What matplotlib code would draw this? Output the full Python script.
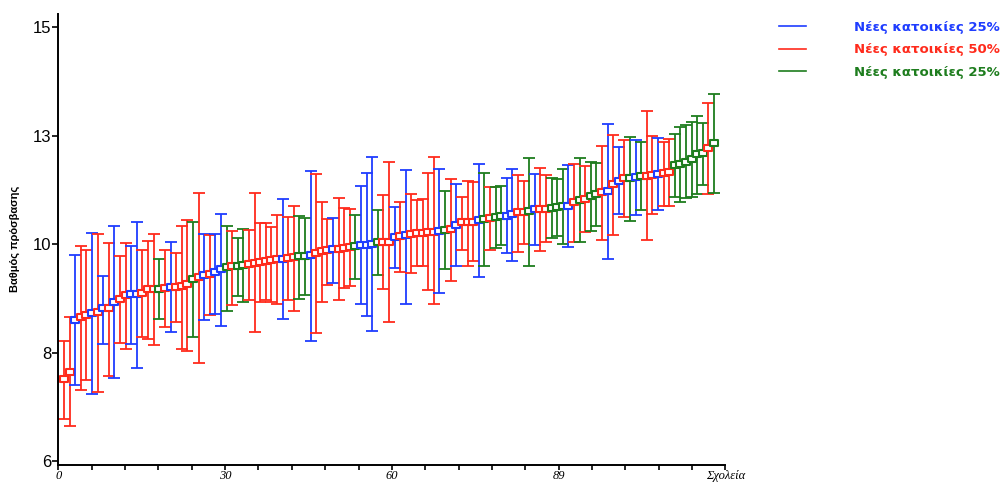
import numpy as np
import matplotlib
matplotlib.use("Agg")
import matplotlib.pyplot as plt
from matplotlib.lines import Line2D
from matplotlib.path import Path
from matplotlib.ticker import FixedLocator, FuncFormatter

# mean accessibility score per school, sorted, with its low/high range
means = [7.70, 7.86, 8.93, 9.00, 9.04, 9.08, 9.10, 9.17, 9.17, 9.30,
         9.37, 9.44, 9.46, 9.46, 9.49, 9.57, 9.57, 9.57, 9.59, 9.61,
         9.61, 9.64, 9.67, 9.78, 9.81, 9.86, 9.88, 9.93, 9.98, 10.02,
         10.04, 10.04, 10.06, 10.08, 10.12, 10.14, 10.15, 10.17, 10.20, 10.20,
         10.22, 10.24, 10.25, 10.25, 10.27, 10.32, 10.36, 10.37, 10.39, 10.40,
         10.42, 10.44, 10.46, 10.48, 10.49, 10.51, 10.54, 10.55, 10.55, 10.65,
         10.66, 10.68, 10.72, 10.73, 10.74, 10.75, 10.76, 10.78, 10.80, 10.81,
         10.90, 10.95, 10.95, 10.97, 11.00, 11.02, 11.05, 11.06, 11.08, 11.09,
         11.12, 11.16, 11.16, 11.19, 11.22, 11.22, 11.23, 11.26, 11.27, 11.29,
         11.30, 11.38, 11.42, 11.44, 11.49, 11.55, 11.58, 11.60, 11.74, 11.82,
         11.87, 11.87, 11.89, 11.92, 11.92, 11.93, 11.95, 11.97, 11.99, 12.14,
         12.17, 12.21, 12.26, 12.36, 12.38, 12.50, 12.60]

highs = [8.50, 8.98, 10.27, 10.46, 10.37, 10.74, 10.71, 9.85, 10.53, 10.88,
         10.25, 10.53, 10.46, 10.97, 10.38, 10.57, 10.71, 10.19, 10.37, 10.54,
         10.32, 10.88, 11.00, 10.97, 11.56, 10.71, 10.68, 10.71, 11.12, 10.88,
         10.78, 10.62, 10.82, 10.80, 11.56, 10.93, 10.93, 10.86, 11.10, 11.43,
         11.07, 11.29, 11.08, 11.05, 12.02, 11.95, 11.38, 11.02, 11.05, 11.46,
         11.26, 11.23, 11.10, 11.71, 11.98, 12.31, 11.21, 11.51, 12.21, 11.28,
         11.38, 12.04, 11.53, 11.42, 11.44, 11.97, 12.31, 12.06, 11.60, 11.85,
         11.74, 11.48, 11.82, 11.78, 12.16, 11.98, 11.68, 11.68, 11.70, 11.87,
         12.06, 11.93, 11.80, 12.29, 11.95, 12.08, 11.94, 11.87, 11.85, 12.06,
         12.14, 12.16, 12.28, 12.12, 12.21, 12.19, 12.53, 12.99, 12.76, 12.52,
         12.67, 12.73, 12.65, 12.61, 13.26, 12.74, 12.70, 12.61, 12.68, 12.79,
         12.92, 12.97, 13.04, 13.16, 13.01, 13.43, 13.61]

lows = [6.87, 6.73, 7.59, 7.48, 7.69, 7.40, 7.43, 8.44, 7.76, 7.72,
        8.46, 8.33, 8.44, 7.94, 8.58, 8.53, 8.40, 8.95, 8.78, 8.68,
        8.88, 8.32, 8.28, 8.57, 8.03, 8.93, 9.03, 9.06, 8.81, 9.11,
        9.23, 9.42, 9.30, 9.34, 8.67, 9.30, 9.34, 9.30, 9.27, 8.95,
        9.34, 9.11, 9.37, 9.45, 8.50, 8.65, 9.30, 9.66, 9.69, 9.34,
        9.59, 9.63, 9.78, 9.25, 9.01, 8.70, 9.87, 9.57, 8.88, 10.00,
        9.93, 9.27, 9.91, 10.04, 10.04, 9.54, 9.25, 9.49, 9.98, 9.74,
        10.05, 10.38, 10.04, 10.15, 9.81, 10.04, 10.38, 10.42, 10.49, 10.32,
        10.15, 10.33, 10.50, 10.05, 10.48, 10.36, 10.54, 10.63, 10.66, 10.51,
        10.44, 10.54, 10.54, 10.75, 10.78, 10.88, 10.59, 10.19, 10.70, 11.12,
        11.07, 10.99, 11.10, 11.21, 10.59, 11.12, 11.21, 11.29, 11.29, 11.48,
        11.38, 11.46, 11.48, 11.53, 11.73, 11.55, 11.56]

# b / r / g : which new-housing scenario each school belongs to
groups = list("rrbrrbrbrb"
              "rrbbrrrgrb"
              "rrrgrbrbbg"
              "rggrrrrrrb"
              "rrggbrrrbr"
              "rrgbbbgrrb"
              "rbrrrrrbgr"
              "brrrbgrggb"
              "brrgbrrggg"
              "brgrggrbrb"
              "rgbgrrbrrg"
              "gggggrg")

labels = ["Νέες κατοικίες 25%", "Νέες κατοικίες 50%", "Νέες κατοικίες 25%"]
colors = {"b": "#1f3dff", "r": "#ff2b1c", "g": "#1e7d1e"}

plt.rcParams["font.family"] = ["Liberation Sans", "DejaVu Sans"]

fig = plt.figure(figsize=(10.04, 4.86), dpi=100)
ax = fig.add_axes([0.0582, 0.044, 0.6642, 0.927])

# slightly wide hollow box for the mean
box = Path([(-1, -0.78), (1, -0.78), (1, 0.78), (-1, 0.78), (-1, -0.78)],
           [Path.MOVETO, Path.LINETO, Path.LINETO, Path.LINETO, Path.CLOSEPOLY])

x = np.arange(1, len(means) + 1)
for xi, m, lo, hi, g in zip(x, means, lows, highs, groups):
    c = colors[g]
    ax.errorbar(xi, m, yerr=[[m - lo], [hi - m]], fmt="none", ecolor=c,
                elinewidth=1.3, capsize=4.5, capthick=1.3)
    ax.plot(xi, m, marker=box, markersize=6, markerfacecolor="white",
            markeredgecolor=c, markeredgewidth=1.5, linestyle="none")

ax.set_xlim(0, 119)
ax.set_ylim(5.93, 15.27)

yt = np.linspace(6, 15, 5)
ax.yaxis.set_major_locator(FixedLocator(yt))
ax.yaxis.set_major_formatter(FuncFormatter(lambda v, p: str(round(v))))

xt = np.linspace(0, 119, 5)
ax.set_xticks(xt)
ax.set_xticklabels([str(round(v)) for v in xt[:-1]] + ["Σχολεία"],
                   family=["Liberation Serif", "DejaVu Serif"], style="italic",
                   fontsize=9)
ax.xaxis.set_minor_locator(FixedLocator(np.linspace(0, 119, 21)))

ax.tick_params(axis="y", labelsize=12, length=4, width=1.2, pad=1)
ax.tick_params(axis="x", which="both", length=3.5, width=1.2, pad=0.5)

for s in ("top", "right"):
    ax.spines[s].set_visible(False)
for s in ("left", "bottom"):
    ax.spines[s].set_linewidth(1.4)

ax.set_ylabel("Βαθμός πρόσβασης", fontsize=8, fontweight="bold", labelpad=9)

handles = [Line2D([], [], color=colors[k], lw=1.2) for k in "brg"]
leg = ax.legend(handles, labels, loc="upper left", bbox_to_anchor=(1.062, 1.012),
                frameon=False, prop={"family": "DejaVu Sans", "weight": "bold", "size": 9.5},
                handlelength=2.1, handletextpad=3.6, labelspacing=0.74,
                labelcolor=[colors[k] for k in "brg"])

fig.savefig("out.png", dpi=100)
